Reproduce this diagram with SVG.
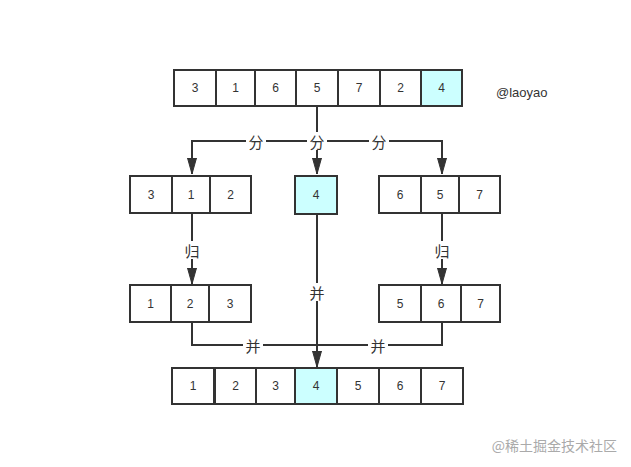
<svg xmlns="http://www.w3.org/2000/svg" width="631" height="467" viewBox="0 0 631 467">
<defs>
<style>
.c{fill:#fff;stroke:#333;stroke-width:2}
.h{fill:#ccffff;stroke:#333;stroke-width:2}
.t{font-family:"Liberation Sans",Arial,sans-serif;font-size:12px;fill:#333;text-anchor:middle;dominant-baseline:central}
.e{fill:none;stroke:#333;stroke-width:2}
.lb{fill:#fff}
.l{font-family:"Noto Sans CJK SC",sans-serif;font-size:15px;fill:#333;text-anchor:middle;dominant-baseline:central}
</style>
<marker id="a" markerUnits="userSpaceOnUse" markerWidth="18" markerHeight="12" viewBox="0 0 18 12" refX="16" refY="6" orient="auto">
<path d="M0,1.5 L16,6 L0,10.5 Z" fill="#333" stroke="#333" stroke-width="1"/>
</marker>
</defs>
<rect width="631" height="467" fill="#fff"/>
<g id="top">
<rect class="c" x="174" y="70" width="42" height="36"/><text class="t" x="195" y="88">3</text>
<rect class="c" x="216" y="70" width="39" height="36"/><text class="t" x="235.5" y="88">1</text>
<rect class="c" x="255" y="70" width="41" height="36"/><text class="t" x="275.5" y="88">6</text>
<rect class="c" x="296" y="70" width="42" height="36"/><text class="t" x="317" y="88">5</text>
<rect class="c" x="338" y="70" width="42" height="36"/><text class="t" x="359" y="88">7</text>
<rect class="c" x="380" y="70" width="41" height="36"/><text class="t" x="400.5" y="88">2</text>
<rect class="h" x="421" y="70" width="41" height="36"/><text class="t" x="441.5" y="88">4</text>
</g>
<g id="left1">
<rect class="c" x="130" y="176" width="42" height="37"/><text class="t" x="151" y="194.5">3</text>
<rect class="c" x="172" y="176" width="38" height="37"/><text class="t" x="191" y="194.5">1</text>
<rect class="c" x="210" y="176" width="41" height="37"/><text class="t" x="230.5" y="194.5">2</text>
</g>
<g id="mid1">
<rect class="h" x="295" y="176" width="42" height="38"/><text class="t" x="316" y="195">4</text>
</g>
<g id="right1">
<rect class="c" x="379" y="176" width="42" height="37"/><text class="t" x="400" y="194.5">6</text>
<rect class="c" x="421" y="176" width="38" height="37"/><text class="t" x="440" y="194.5">5</text>
<rect class="c" x="459" y="176" width="41" height="37"/><text class="t" x="479.5" y="194.5">7</text>
</g>
<g id="left2">
<rect class="c" x="130" y="285" width="41" height="37"/><text class="t" x="150.5" y="303.5">1</text>
<rect class="c" x="171" y="285" width="38" height="37"/><text class="t" x="190" y="303.5">2</text>
<rect class="c" x="209" y="285" width="42" height="37"/><text class="t" x="230" y="303.5">3</text>
</g>
<g id="right2">
<rect class="c" x="379" y="285" width="42" height="37"/><text class="t" x="400" y="303.5">5</text>
<rect class="c" x="421" y="285" width="40" height="37"/><text class="t" x="441" y="303.5">6</text>
<rect class="c" x="461" y="285" width="39" height="37"/><text class="t" x="480.5" y="303.5">7</text>
</g>
<g id="bottom">
<rect class="c" x="172" y="368" width="42" height="36"/><text class="t" x="193" y="386">1</text>
<rect class="c" x="215" y="368" width="41" height="36"/><text class="t" x="235.5" y="386">2</text>
<rect class="c" x="256" y="368" width="39" height="36"/><text class="t" x="275.5" y="386">3</text>
<rect class="h" x="295" y="368" width="42" height="36"/><text class="t" x="316" y="386">4</text>
<rect class="c" x="337" y="368" width="42" height="36"/><text class="t" x="358" y="386">5</text>
<rect class="c" x="379" y="368" width="42" height="36"/><text class="t" x="400" y="386">6</text>
<rect class="c" x="421" y="368" width="42" height="36"/><text class="t" x="442" y="386">7</text>
</g>
<g id="connectors">
<path class="e" d="M317,106 V141 H192 V174" marker-end="url(#a)"/>
<path class="e" d="M317,141 H442 V174" marker-end="url(#a)"/>
<path class="e" d="M317,141 V174" marker-end="url(#a)"/>
<path class="e" d="M192,213 V284" marker-end="url(#a)"/>
<path class="e" d="M442,213 V284" marker-end="url(#a)"/>
<path class="e" d="M317,214 V367" marker-end="url(#a)"/>
<path class="e" d="M192,322 V345 H317"/>
<path class="e" d="M442,322 V345 H317"/>
<rect class="lb" x="246" y="132" width="20" height="18"/><text class="l" x="256" y="141">分</text>
<rect class="lb" x="307" y="132" width="20" height="18"/><text class="l" x="317" y="141">分</text>
<rect class="lb" x="369" y="132" width="20" height="18"/><text class="l" x="379" y="141">分</text>
<rect class="lb" x="182" y="241" width="20" height="18"/><text class="l" x="192" y="250">归</text>
<rect class="lb" x="432" y="241" width="20" height="18"/><text class="l" x="442" y="250">归</text>
<rect class="lb" x="307" y="283" width="20" height="18"/><text class="l" x="317" y="292">并</text>
<rect class="lb" x="243" y="336" width="20" height="18"/><text class="l" x="253" y="345">并</text>
<rect class="lb" x="368" y="336" width="20" height="18"/><text class="l" x="378" y="345">并</text>
</g>
<text x="496" y="97" font-family="'Liberation Sans',Arial,sans-serif" font-size="13" fill="#333">@laoyao</text>
<text x="617" y="451" text-anchor="end" font-family="'Noto Sans CJK SC',sans-serif" font-size="14" fill="#aaa">@稀土掘金技术社区</text>
</svg>
